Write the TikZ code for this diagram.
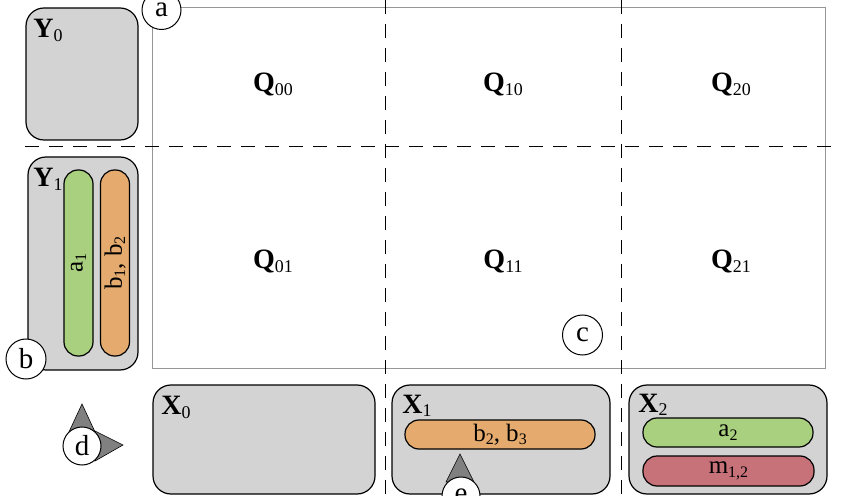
\documentclass[tikz,border=0pt]{standalone}
\usepackage{fontspec}
\setmainfont{Liberation Serif}
\usetikzlibrary{positioning}

\definecolor{boxgray}{RGB}{211,211,211}
\definecolor{framegray}{RGB}{150,150,150}
\definecolor{bargreen}{RGB}{169,208,126}
\definecolor{barorange}{RGB}{229,171,110}
\definecolor{barred}{RGB}{199,113,121}
\definecolor{tipgray}{RGB}{128,128,128}

% small lowered index
\newcommand{\idx}[1]{\raisebox{-0.3ex}{\scalebox{0.64}{\mdseries #1}}}

\begin{document}
\begin{tikzpicture}[
    x=0.5pt, y=-0.5pt,
    % Group box style - gray rounded boxes
    group/.style={
        rectangle,
        rounded corners=9pt,
        draw=black,
        line width=0.6pt,
        fill=boxgray,
        inner sep=0pt
    },
    % Bar style - pill shaped
    bar/.style={
        rectangle,
        rounded corners=7pt,
        draw=black,
        line width=0.6pt,
        inner sep=0pt,
        minimum height=14.5pt,
        font=\fontsize{12.5}{14}\selectfont
    },
    % Label style
    lbl/.style={
        font=\fontsize{14}{16}\selectfont\bfseries,
        inner sep=0pt
    },
    % Marker circle style
    mark circle/.style={
        circle,
        draw=black,
        line width=0.5pt,
        fill=white,
        inner sep=0pt,
        minimum size=20pt,
        font=\fontsize{14.5}{16}\selectfont
    },
    % Pointer triangle style
    pointer/.style={
        fill=tipgray,
        draw=black,
        line width=0.3pt
    },
    % Divider style - dashed lines
    divider/.style={
        line width=0.5pt,
        dash pattern=on 7pt off 5pt
    }
]
\useasboundingbox (0,0) rectangle (845,496);

% === Grid frame ===
\node[rectangle, draw=framegray, line width=0.5pt, minimum width=336.5pt,
      minimum height=180pt, inner sep=0pt] (grid) at (488.5,188) {};

% === Dividers ===
\draw[divider] (385,0) -- (385,496);
\draw[divider] (621,0) -- (621,496);
\draw[divider] (25,147) -- (833,147);

% === Cells ===
\node[lbl, anchor=base] (q00) at (273,92) {Q\idx{00}};
\node[lbl, anchor=base] (q10) at (503,92) {Q\idx{10}};
\node[lbl, anchor=base] (q20) at (731,92) {Q\idx{20}};
\node[lbl, anchor=base] (q01) at (273,269) {Q\idx{01}};
\node[lbl, anchor=base] (q11) at (503,269) {Q\idx{11}};
\node[lbl, anchor=base] (q21) at (731,269) {Q\idx{21}};

% === Row groups (left) ===
\node[group, minimum width=56pt, minimum height=66pt] (y0) at (82,74) {};
\node[lbl, anchor=base west] at (33,38) {Y\idx{0}};

\node[group, minimum width=55pt, minimum height=106.5pt] (y1) at (83,263.5) {};
\node[lbl, anchor=base west] at (33,187) {Y\idx{1}};

\node[bar, fill=bargreen, rotate=90, minimum width=93pt] (a1) at (78.5,263) {a\idx{1}};
\node[bar, fill=barorange, rotate=90, minimum width=93pt] (b12) at (115,263) {b\idx{1}, b\idx{2}};

% === Column groups (bottom) ===
\node[group, minimum width=111pt, minimum height=54.5pt] (x0) at (264,439.5) {};
\node[lbl, anchor=base west] at (161,415) {X\idx{0}};

\node[group, minimum width=109pt, minimum height=54.5pt] (x1) at (501,439.5) {};
\node[lbl, anchor=base west] at (402,413) {X\idx{1}};
\node[bar, fill=barorange, minimum width=95pt] (b23) at (500,434.5) {b\idx{2}, b\idx{3}};

\node[group, minimum width=99pt, minimum height=54.5pt] (x2) at (728,439.5) {};
\node[lbl, anchor=base west] at (638,412) {X\idx{2}};
\node[bar, fill=bargreen, minimum width=85pt] (a2) at (728,432.5) {a\idx{2}};
\node[bar, fill=barred, minimum width=85.5pt, minimum height=15pt] (m12) at (728.5,471) {m\idx{1,2}};

% === Pointers ===
\draw[pointer] (82,404) -- (68,434) -- (96,434) -- cycle;
\draw[pointer] (123,445) -- (95,431) -- (95,461) -- cycle;
\draw[pointer] (460,454) -- (446,482) -- (474,482) -- cycle;

% === Markers ===
\node[mark circle, minimum size=19.5pt] (ma) at (161.5,10) {a};
\node[mark circle] (mb) at (26,359) {b};
\node[mark circle] (mc) at (582.5,335) {c};
\node[mark circle, minimum size=19pt] (md) at (82,446) {d};
\node[mark circle, minimum size=19pt] (me) at (461,496) {e};

\end{tikzpicture}
\end{document}
